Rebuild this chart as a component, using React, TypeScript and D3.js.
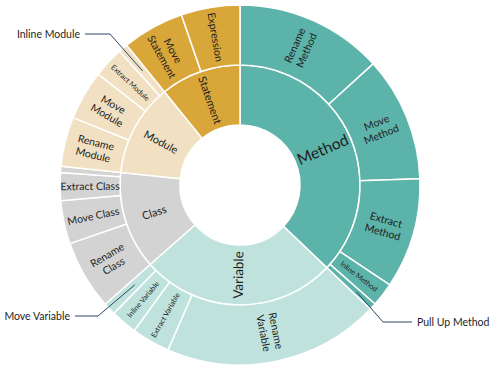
import React from "react";
import * as d3 from "d3";

// inner ring: refactoring target kinds
const groups = ["Method", "Variable", "Class", "Module", "Statement"];
const groupColors = ["#5cb3a9", "#bfe3dc", "#d3d3d3", "#f1e1c2", "#d9a63a"];

// outer ring: refactoring types (share of all)
const refactorings = [
  "Rename Method", "Move Method", "Extract Method", "Inline Method", "Pull Up Method",
  "Rename Variable", "Extract Variable", "Inline Variable", "Move Variable",
  "Rename Class", "Move Class", "Extract Class", "Other Class",
  "Rename Module", "Move Module", "Extract Module", "Inline Module",
  "Move Statement", "Expression",
];
const refactoringGroup = [
  "Method", "Method", "Method", "Method", "Method",
  "Variable", "Variable", "Variable", "Variable",
  "Class", "Class", "Class", "Class",
  "Module", "Module", "Module", "Module",
  "Statement", "Statement",
];
const refactoringShare = [
  47.7, 40.3, 35.7, 7.7, 2.2,
  70, 12.4, 8.5, 4,
  22.5, 14, 9, 2,
  16, 16, 10, 3,
  20, 19,
];
// how each label is printed inside its wedge ("" = no label in the wedge)
const refactoringLabels = [
  "Rename\nMethod", "Move\nMethod", "Extract\nMethod", "Inline Method", "",
  "Rename\nVariable", "Extract Variable", "Inline Variable", "",
  "Rename\nClass", "Move Class", "Extract Class", "",
  "Rename\nModule", "Move\nModule", "Extract Module", "",
  "Move\nStatement", "Expression",
];
// labels drawn outside with a leader line
const callouts = ["Inline Module", "Move Variable", "Pull Up Method"];

const W = 498;
const H = 380;
const cx = 240;
const cy = 185;
const r0 = 60;
const r1 = 120;
const r2 = 180;
const font = "Lato, 'Open Sans', sans-serif";
// wedges whose label is squeezed into a small font
const compact = new Set(["Inline Method", "Extract Variable", "Inline Variable", "Extract Module"]);

type Node = { name: string; value?: number; label?: string; children?: Node[] };

const tree: Node = {
  name: "root",
  children: groups.map((g) => ({
    name: g,
    children: refactorings
      .map((name, i) => ({ name, value: refactoringShare[i], label: refactoringLabels[i], group: refactoringGroup[i] }))
      .filter((d) => d.group === g),
  })),
};

const root = d3.hierarchy<Node>(tree).sum((d) => d.value ?? 0);
d3.partition<Node>().size([2 * Math.PI, 2])(root);

const radii = [[0, 0], [r0, r1], [r1, r2]];
const arc = d3
  .arc<d3.HierarchyRectangularNode<Node>>()
  .startAngle((d) => d.x0)
  .endAngle((d) => d.x1)
  .innerRadius((d) => radii[d.depth][0])
  .outerRadius((d) => radii[d.depth][1]);

const colorOf = (d: d3.HierarchyNode<Node>) => {
  const g = d.depth === 1 ? d : d.parent!;
  return groupColors[groups.indexOf(g.data.name)];
};

const polar = (a: number, r: number) => [cx + r * Math.sin(a), cy - r * Math.cos(a)];

const rotation = (a: number) => {
  let deg = (a * 180) / Math.PI - 90;
  if (deg > 90) deg -= 180;
  return deg;
};

export default function App() {
  const nodes = (root.descendants() as d3.HierarchyRectangularNode<Node>[]).filter((d) => d.depth > 0);

  const calloutLayout: Record<string, { r: number; elbow: [number, number]; end: number; side: number }> = {
    "Inline Module": { r: 150, elbow: [110, 34], end: 85, side: -1 },
    "Move Variable": { r: 145, elbow: [98, 316], end: 75, side: -1 },
    "Pull Up Method": { r: 158, elbow: [383, 322], end: 412, side: 1 },
  };

  return (
    <svg width={W} height={H} style={{ position: "absolute", left: 0, top: 0, background: "#fff" }} fontFamily={font}>
      <g transform={`translate(${cx},${cy})`}>
        {nodes.map((d, i) => (
          <path key={i} d={arc(d) ?? ""} fill={colorOf(d)} stroke="#fff" strokeWidth={1.5} />
        ))}
      </g>
      {nodes.map((d, i) => {
        const a = (d.x0 + d.x1) / 2;
        const [rin, rout] = radii[d.depth];
        const [x, y] = polar(a, (rin + rout) / 2);
        let lines: string[];
        let size: number;
        if (d.depth === 1) {
          lines = [d.data.name];
          size = Math.max(11, 11 + ((d.value ?? 0) - 50) * 0.055);
        } else {
          if (!d.data.label) return null;
          lines = d.data.label.split("\n");
          size = compact.has(d.data.name) ? 7.3 : 10.5;
        }
        const lh = size * 1.2;
        return (
          <text
            key={i}
            transform={`translate(${x},${y}) rotate(${rotation(a)})`}
            textAnchor="middle"
            fontSize={size}
            fill="#1e1e1e"
          >
            {lines.map((t, j) => (
              <tspan key={j} x={0} y={(j - (lines.length - 1) / 2) * lh} dy="0.35em">
                {t}
              </tspan>
            ))}
          </text>
        );
      })}
      {callouts.map((name) => {
        const d = nodes.find((n) => n.data.name === name)!;
        const c = calloutLayout[name];
        const [ax, ay] = polar((d.x0 + d.x1) / 2, c.r);
        const [ex, ey] = c.elbow;
        return (
          <g key={name}>
            <polyline
              points={`${ax},${ay} ${ex},${ey} ${c.end},${ey}`}
              fill="none"
              stroke="#2d4768"
              strokeWidth={1}
            />
            <text
              x={c.end + c.side * 5}
              y={ey}
              dy="0.35em"
              textAnchor={c.side < 0 ? "end" : "start"}
              fontSize={10.5}
              fill="#1e1e1e"
            >
              {name}
            </text>
          </g>
        );
      })}
    </svg>
  );
}
